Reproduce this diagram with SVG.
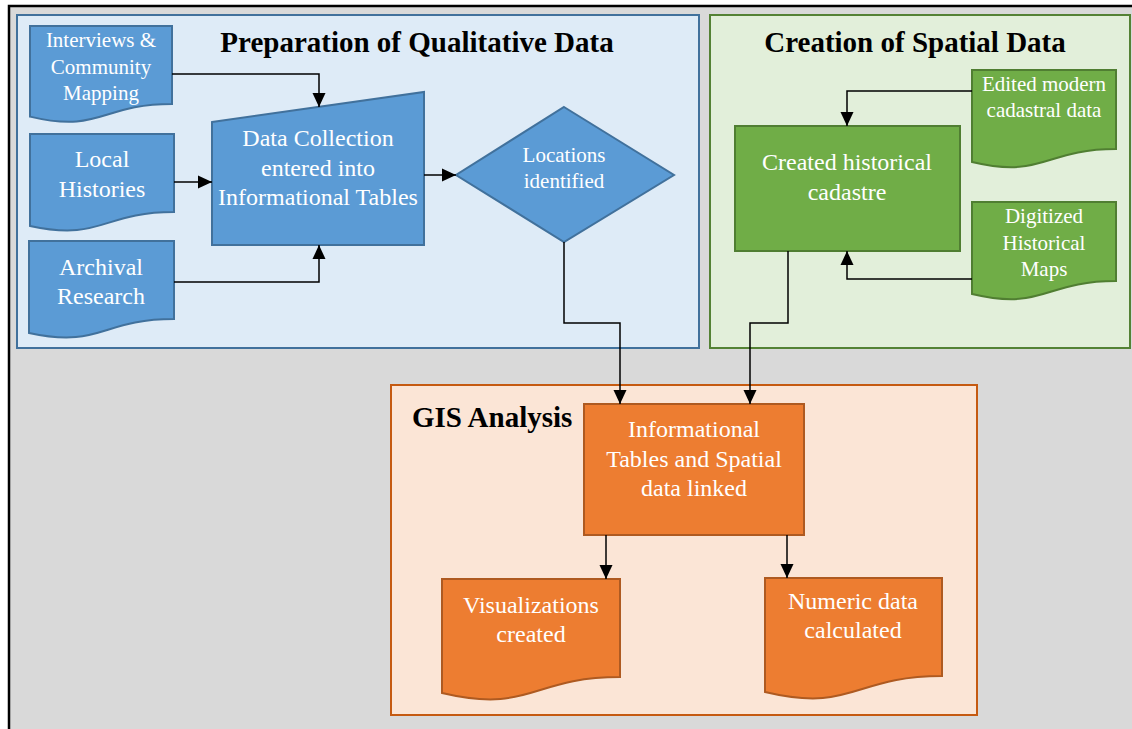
<svg xmlns="http://www.w3.org/2000/svg" width="1132" height="729" viewBox="0 0 1132 729">
  <style>
    .panel-b { fill: #deebf7; stroke: #41719c; stroke-width: 2; }
    .panel-g { fill: #e2efda; stroke: #548235; stroke-width: 2; }
    .panel-o { fill: #fbe5d6; stroke: #c55a11; stroke-width: 2; }
    .blue { fill: #5b9bd5; stroke: #41719c; stroke-width: 2; }
    .green { fill: #70ad47; stroke: #507e32; stroke-width: 2; }
    .orange { fill: #ed7d31; stroke: #ae5a21; stroke-width: 2; }
    .title { font-family: "Liberation Serif", serif; font-weight: bold; font-size: 29px; fill: #000; }
    .lbl { font-family: "Liberation Serif", serif; fill: #fff; text-anchor: middle; }
    .conn { fill: none; stroke: #000; stroke-width: 1.5; marker-end: url(#arrow); }
  </style>
  <defs>
    <marker id="arrow" markerUnits="userSpaceOnUse" markerWidth="14" markerHeight="14" viewBox="0 0 14 14" refX="14" refY="7" orient="auto">
      <path d="M0,0.5 L14,7 L0,13.5 Z" fill="#000"/>
    </marker>
  </defs>

  <!-- outer frame -->
  <rect x="9" y="6" width="1130" height="730" fill="#d9d9d9" stroke="#000" stroke-width="2.5"/>

  <!-- section panels -->
  <g id="panel-qualitative">
    <rect class="panel-b" x="17" y="15" width="682" height="333"/>
    <text class="title" x="417" y="52" text-anchor="middle">Preparation of Qualitative Data</text>
  </g>
  <g id="panel-spatial">
    <rect class="panel-g" x="710" y="15" width="420" height="333"/>
    <text class="title" x="915" y="52" text-anchor="middle">Creation of Spatial Data</text>
  </g>
  <g id="panel-gis">
    <rect class="panel-o" x="391" y="385" width="586" height="330"/>
    <text class="title" x="412" y="427">GIS Analysis</text>
  </g>

  <!-- qualitative data nodes -->
  <g id="interviews">
    <path class="blue" d="M30,26 H172 V104 C101,104 101,133.5 30,116.6 Z"/>
    <text class="lbl" font-size="21"><tspan x="101" y="47">Interviews &amp;</tspan><tspan x="101" y="74">Community</tspan><tspan x="101" y="100">Mapping</tspan></text>
  </g>
  <g id="local-histories">
    <path class="blue" d="M30,134 H174 V212 C102,212 102,241.5 30,226 Z"/>
    <text class="lbl" font-size="24"><tspan x="102" y="167">Local</tspan><tspan x="102" y="197">Histories</tspan></text>
  </g>
  <g id="archival-research">
    <path class="blue" d="M29,241 H174 V319 C101,319 101,348.5 29,333 Z"/>
    <text class="lbl" font-size="24"><tspan x="101" y="275">Archival</tspan><tspan x="101" y="304">Research</tspan></text>
  </g>
  <g id="data-collection">
    <path class="blue" d="M212,122 L424,92 V245 H212 Z"/>
    <text class="lbl" font-size="24"><tspan x="318" y="146">Data Collection</tspan><tspan x="318" y="176">entered into</tspan><tspan x="318" y="205">Informational Tables</tspan></text>
  </g>
  <g id="locations-identified">
    <path class="blue" d="M564,107 L674,175 L564,242 L456,175 Z"/>
    <text class="lbl" font-size="21"><tspan x="564" y="162">Locations</tspan><tspan x="564" y="188">identified</tspan></text>
  </g>

  <!-- spatial data nodes -->
  <g id="edited-cadastral">
    <path class="green" d="M972,70 H1116 V149 C1044,149 1044,179 972,162 Z"/>
    <text class="lbl" font-size="21"><tspan x="1044" y="91">Edited modern</tspan><tspan x="1044" y="117">cadastral data</tspan></text>
  </g>
  <g id="historical-cadastre">
    <rect class="green" x="735" y="126" width="225" height="125"/>
    <text class="lbl" font-size="24"><tspan x="847" y="170">Created historical</tspan><tspan x="847" y="200">cadastre</tspan></text>
  </g>
  <g id="digitized-maps">
    <path class="green" d="M972,202 H1116 V281 C1044,281 1044,311 972,294 Z"/>
    <text class="lbl" font-size="21"><tspan x="1044" y="223">Digitized</tspan><tspan x="1044" y="250">Historical</tspan><tspan x="1044" y="276">Maps</tspan></text>
  </g>

  <!-- GIS analysis nodes -->
  <g id="tables-linked">
    <rect class="orange" x="584" y="404" width="220" height="131"/>
    <text class="lbl" font-size="24"><tspan x="694" y="437">Informational</tspan><tspan x="694" y="467">Tables and Spatial</tspan><tspan x="694" y="496">data linked</tspan></text>
  </g>
  <g id="visualizations">
    <path class="orange" d="M442,579 H620 V677 C531,677 531,714 442,693 Z"/>
    <text class="lbl" font-size="24"><tspan x="531" y="613">Visualizations</tspan><tspan x="531" y="642">created</tspan></text>
  </g>
  <g id="numeric-data">
    <path class="orange" d="M765,578 H942 V676 C853,676 853,713 765,692 Z"/>
    <text class="lbl" font-size="24"><tspan x="853" y="609">Numeric data</tspan><tspan x="853" y="638">calculated</tspan></text>
  </g>

  <!-- connectors -->
  <g id="connectors">
    <path class="conn" d="M172,74 H319 V107"/>
    <path class="conn" d="M174,182 H212"/>
    <path class="conn" d="M174,282 H319 V245"/>
    <path class="conn" d="M424,175 H456"/>
    <path class="conn" d="M564,242 V323 H620 V404"/>
    <path class="conn" d="M972,91 H847 V126"/>
    <path class="conn" d="M972,279 H847 V251"/>
    <path class="conn" d="M788,251 V323 H750 V404"/>
    <path class="conn" d="M606,535 V579"/>
    <path class="conn" d="M787,535 V578"/>
  </g>
</svg>
